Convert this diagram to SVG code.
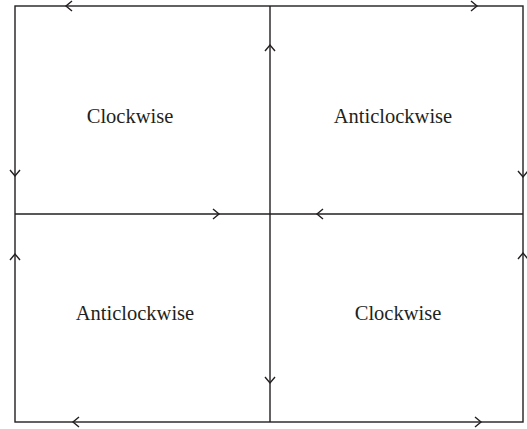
<svg xmlns="http://www.w3.org/2000/svg" xmlns:xlink="http://www.w3.org/1999/xlink" width="527" height="429" viewBox="0 0 527 429">
  <style>
    .edge { fill: none; stroke: #231f20; stroke-width: 1.4; }
    .label { font-family: "Liberation Serif", "Times New Roman", serif; font-size: 20.5px; fill: #231f20; text-anchor: middle; }
  </style>
  <defs>
    <!-- open chevron pointing right, tip at origin -->
    <path id="chev" class="edge" d="M-6,-5 L0,0 L-6,5"/>
  </defs>
  <rect width="527" height="429" fill="#ffffff"/>

  <g id="connectors">
    <!-- frame and dividing lines -->
    <rect class="edge" x="15" y="6" width="508" height="416"/>
    <line class="edge" x1="270" y1="6" x2="270" y2="422"/>
    <line class="edge" x1="15" y1="214" x2="523" y2="214"/>

    <!-- direction marks -->
    <use xlink:href="#chev" transform="translate(66,6) rotate(180)"/>
    <use xlink:href="#chev" transform="translate(477,6)"/>
    <use xlink:href="#chev" transform="translate(15,176) rotate(90)"/>
    <use xlink:href="#chev" transform="translate(15,254) rotate(-90)"/>
    <use xlink:href="#chev" transform="translate(523,177) rotate(90)"/>
    <use xlink:href="#chev" transform="translate(523,253) rotate(-90)"/>
    <use xlink:href="#chev" transform="translate(219,214)"/>
    <use xlink:href="#chev" transform="translate(317,214) rotate(180)"/>
    <use xlink:href="#chev" transform="translate(270,45) rotate(-90)"/>
    <use xlink:href="#chev" transform="translate(270,383) rotate(90)"/>
    <use xlink:href="#chev" transform="translate(73,422) rotate(180)"/>
    <use xlink:href="#chev" transform="translate(481,422)"/>
  </g>

  <g id="quadrant-top-left">
    <text class="label" x="130" y="123">Clockwise</text>
  </g>
  <g id="quadrant-top-right">
    <text class="label" x="393" y="123">Anticlockwise</text>
  </g>
  <g id="quadrant-bottom-left">
    <text class="label" x="135" y="320">Anticlockwise</text>
  </g>
  <g id="quadrant-bottom-right">
    <text class="label" x="398" y="320">Clockwise</text>
  </g>
</svg>
